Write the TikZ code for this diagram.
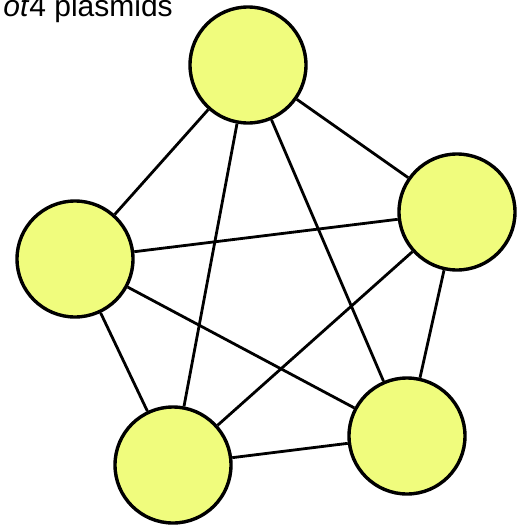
\documentclass[tikz,border=0pt]{standalone}
\usepackage{fontspec}
\setmainfont{Liberation Sans}
\definecolor{ballfill}{RGB}{240,252,125}
\begin{document}
\begin{tikzpicture}[x=1pt,y=-1pt,
  ball/.style={circle,draw=black,line width=3.4pt,fill=ballfill,inner sep=0pt,minimum size=116pt},
  link/.style={draw=black,line width=2.8pt}]
\useasboundingbox (0,0) rectangle (530,525);
\clip (0,0) rectangle (530,525);
\node[anchor=base east,font=\fontsize{30}{36}\selectfont,inner sep=0pt] (title) at (173,16) {\textit{ot}4 plasmids};
\node[ball] (t) at (248,65) {};
\node[ball] (l) at (75,259) {};
\node[ball] (r) at (457,212) {};
\node[ball] (bl) at (173,465) {};
\node[ball] (br) at (407,436) {};
\foreach \a/\b in {t/l,t/r,t/bl,t/br,l/r,l/bl,l/br,r/bl,r/br,bl/br}
  \draw[link] (\a) -- (\b);
\end{tikzpicture}
\end{document}
